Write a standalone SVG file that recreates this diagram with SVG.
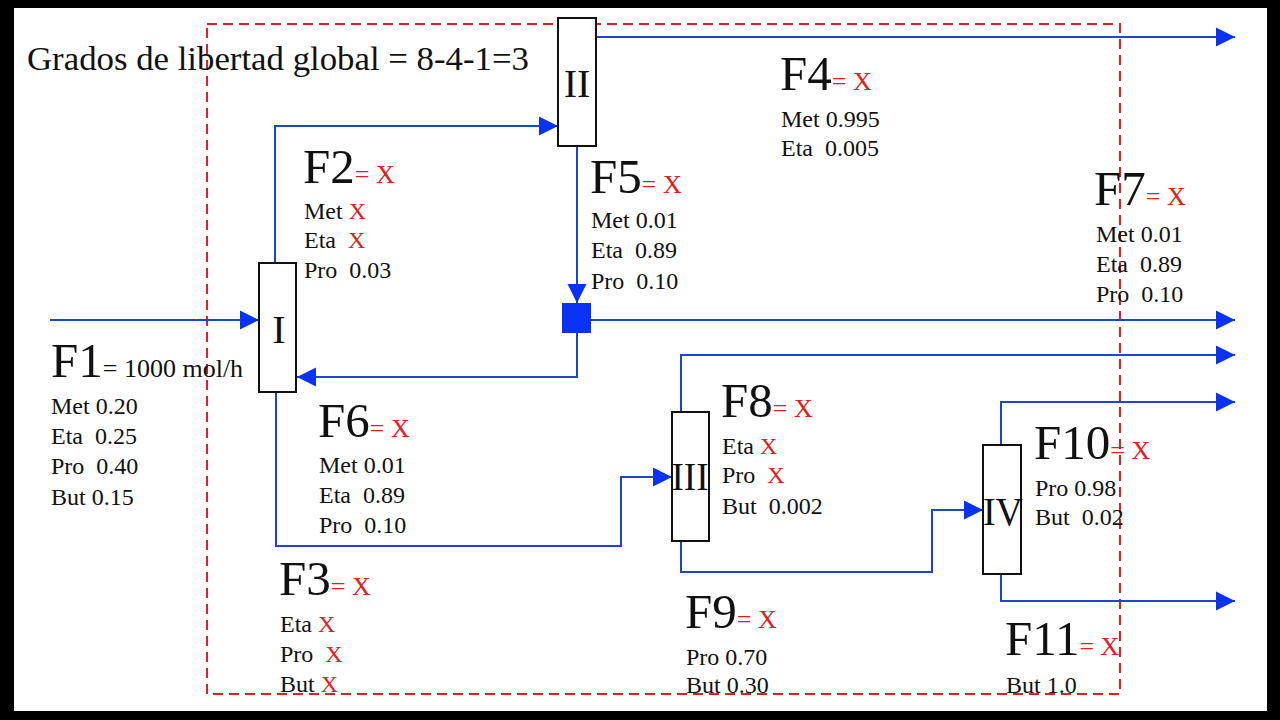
<svg xmlns="http://www.w3.org/2000/svg" width="1280" height="720" viewBox="0 0 1280 720">
<style>
.lbl{font-family:"Liberation Serif","Times New Roman",serif;fill:#111}
.big{font-size:49px}
.sm{font-size:24px;white-space:pre}
.red{fill:#e0201c}
.eq{font-size:26px}
.unit{font-family:"Liberation Serif","Times New Roman",serif;font-size:40px;fill:#111;text-anchor:middle}
.box{fill:#fff;stroke:#111;stroke-width:2}
.pipe{fill:none;stroke:#1c44cc;stroke-width:2;marker-end:url(#ah)}
.bound{fill:none;stroke:#e02020;stroke-width:2;stroke-dasharray:10 6}
</style>
<defs>
<marker id="ah" viewBox="0 0 20 20" markerWidth="19" markerHeight="21" refX="20" refY="10" orient="auto" markerUnits="userSpaceOnUse">
<path d="M0,0 L20,10 L0,20 z" fill="#0a32f5"/>
</marker>
</defs>
<rect x="0" y="0" width="1280" height="720" fill="#000"/>
<rect x="14" y="8" width="1253" height="703" fill="#fff"/>

<rect id="boundary" class="bound" x="207" y="24" width="913" height="670"/>

<text id="title" class="lbl" x="27" y="70" font-size="33" textLength="502" lengthAdjust="spacingAndGlyphs">Grados de libertad global = 8-4-1=3</text>

<g id="connectors">
<path id="F1" class="pipe" d="M50,320 H259"/>
<path id="F2" class="pipe" d="M275,263 V126 H558"/>
<path id="F4" class="pipe" d="M596,37 H1235"/>
<path id="F5" class="pipe" d="M577,146 V303"/>
<path id="F7" class="pipe" d="M591,320 H1235"/>
<path id="F6" class="pipe" d="M577,333 V377 H297"/>
<path id="F3" class="pipe" d="M276,392 V546 H621 V477 H672"/>
<path id="F8" class="pipe" d="M681,412 V355 H1235"/>
<path id="F9" class="pipe" d="M681,541 V572 H932 V510 H983"/>
<path id="F10" class="pipe" d="M1001,445 V402 H1235"/>
<path id="F11" class="pipe" d="M1001,574 V601 H1235"/>
</g>

<g id="unit-I"><rect class="box" x="259" y="263" width="37" height="129"/><text class="unit" x="279" y="343">I</text></g>
<g id="unit-II"><rect class="box" x="558" y="18" width="38" height="128"/><text class="unit" x="577" y="97">II</text></g>
<g id="unit-III"><rect class="box" x="672" y="412" width="37" height="129"/><text class="unit" x="690" y="490" textLength="37" lengthAdjust="spacingAndGlyphs">III</text></g>
<g id="unit-IV"><rect class="box" x="983" y="445" width="38" height="129"/><text class="unit" x="1003" y="525" textLength="40" lengthAdjust="spacingAndGlyphs">IV</text></g>
<g id="splitter"><rect x="562" y="303" width="29" height="30" fill="#0a32f5"/></g>

<g id="label-F1">
<text class="lbl big" x="51" y="377">F1<tspan class="eq">= 1000 mol/h</tspan></text>
<text class="lbl sm" x="51" y="414">Met 0.20</text>
<text class="lbl sm" x="51" y="444">Eta  0.25</text>
<text class="lbl sm" x="51" y="474">Pro  0.40</text>
<text class="lbl sm" x="51" y="505">But 0.15</text>
</g>
<g id="label-F2">
<text class="lbl big" x="303" y="183">F2<tspan class="red eq">= X</tspan></text>
<text class="lbl sm" x="304" y="219">Met <tspan class="red">X</tspan></text>
<text class="lbl sm" x="304" y="248">Eta  <tspan class="red">X</tspan></text>
<text class="lbl sm" x="304" y="278">Pro  0.03</text>
</g>
<g id="label-F3">
<text class="lbl big" x="279" y="595">F3<tspan class="red eq">= X</tspan></text>
<text class="lbl sm" x="280" y="632">Eta <tspan class="red">X</tspan></text>
<text class="lbl sm" x="280" y="662">Pro  <tspan class="red">X</tspan></text>
<text class="lbl sm" x="280" y="692">But <tspan class="red">X</tspan></text>
</g>
<g id="label-F4">
<text class="lbl big" x="780" y="90">F4<tspan class="red eq">= X</tspan></text>
<text class="lbl sm" x="781" y="127">Met 0.995</text>
<text class="lbl sm" x="781" y="156">Eta  0.005</text>
</g>
<g id="label-F5">
<text class="lbl big" x="590" y="193">F5<tspan class="red eq">= X</tspan></text>
<text class="lbl sm" x="591" y="228">Met 0.01</text>
<text class="lbl sm" x="591" y="258">Eta  0.89</text>
<text class="lbl sm" x="591" y="289">Pro  0.10</text>
</g>
<g id="label-F6">
<text class="lbl big" x="318" y="437">F6<tspan class="red eq">= X</tspan></text>
<text class="lbl sm" x="319" y="473">Met 0.01</text>
<text class="lbl sm" x="319" y="503">Eta  0.89</text>
<text class="lbl sm" x="319" y="533">Pro  0.10</text>
</g>
<g id="label-F7">
<text class="lbl big" x="1094" y="205">F7<tspan class="red eq">= X</tspan></text>
<text class="lbl sm" x="1096" y="242">Met 0.01</text>
<text class="lbl sm" x="1096" y="272">Eta  0.89</text>
<text class="lbl sm" x="1096" y="302">Pro  0.10</text>
</g>
<g id="label-F8">
<text class="lbl big" x="721" y="417">F8<tspan class="red eq">= X</tspan></text>
<text class="lbl sm" x="722" y="454">Eta <tspan class="red">X</tspan></text>
<text class="lbl sm" x="722" y="483">Pro  <tspan class="red">X</tspan></text>
<text class="lbl sm" x="722" y="514">But  0.002</text>
</g>
<g id="label-F9">
<text class="lbl big" x="685" y="628">F9<tspan class="red eq">= X</tspan></text>
<text class="lbl sm" x="686" y="665">Pro 0.70</text>
<text class="lbl sm" x="686" y="693">But 0.30</text>
</g>
<g id="label-F10">
<text class="lbl big" x="1034" y="459">F10<tspan class="red eq">= X</tspan></text>
<text class="lbl sm" x="1035" y="496">Pro 0.98</text>
<text class="lbl sm" x="1035" y="525">But  0.02</text>
</g>
<g id="label-F11">
<text class="lbl big" x="1005" y="655">F11<tspan class="red eq">= X</tspan></text>
<text class="lbl sm" x="1006" y="693">But 1.0</text>
</g>
</svg>
